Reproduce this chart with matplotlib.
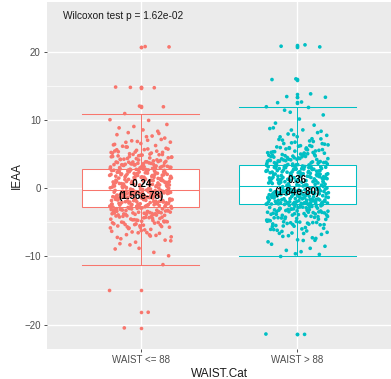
import matplotlib
matplotlib.use("Agg")
import matplotlib.pyplot as plt
import numpy as np

plt.rcParams["font.family"] = ["Liberation Sans", "DejaVu Sans"]

# groups and summary stats
groups = ["WAIST <= 88", "WAIST > 88"]
colors = ["#F8766D", "#00BFC4"]
medians = [-0.24, 0.36]
q1 = [-2.8, -2.35]
q3 = [2.9, 3.4]
whisker_lo = [-11.2, -10.0]
whisker_hi = [11.0, 12.0]
median_pvals = ["1.56e-78", "1.84e-80"]
wilcoxon_p = "1.62e-02"

# IEAA values, WAIST <= 88
ieaa_low = [
    -15.0, -18.2, -20.5, -11.2,
    -8.8, -8.9, -9.4, -8.3, -9.9,
    -6.1, -7.4, -6.6, -7.9, -6.3, -7.0, -6.8, -7.6, -6.2, -7.2, -6.9, -6.4, -7.7, -6.5,
    -4.1, -5.6, -4.7, -5.2, -4.4, -5.9, -4.9, -5.4, -4.2, -5.0, -4.6, -5.8, -4.3, -5.3,
    -4.8, -5.5, -4.05, -5.1, -4.5, -5.7, -4.25, -4.95, -5.35, -4.65, -5.05, -4.15, -5.65, -4.85,
    -2.85, -3.9, -3.2, -3.6, -2.9, -3.4, -3.75, -3.0, -3.5, -3.15, -3.85, -2.95, -3.3, -3.65,
    -3.05, -3.45, -3.8, -3.1, -3.55, -3.25, -3.95, -2.88, -3.35, -3.7, -3.02, -3.48, -3.82,
    -3.18, -3.58, -2.92, -3.28, -3.68,
    -2.8, -0.3, -1.5, -2.2, -0.9, -1.8, -2.6, -0.5, -1.2, -2.0, -0.7, -1.6, -2.4, -1.0, -0.4,
    -2.7, -1.3, -1.9, -0.6, -2.3, -1.1, -0.8, -2.5, -1.4, -1.7, -2.1, -0.35, -2.65, -1.25,
    -0.95, -1.85, -2.35, -0.55, -1.45, -2.15, -0.75, -1.65, -2.45, -1.05, -0.45, -2.75, -1.35,
    -1.95, -0.65, -2.25, -1.15, -0.85, -2.55, -1.55, -1.75, -2.05, -0.28, -2.62, -1.22, -0.92,
    -1.82, -2.32, -0.52, -1.42, -2.12, -0.72, -1.62, -2.42, -1.02, -0.42, -2.72, -1.32, -1.92,
    -0.62, -2.22, -1.12, -0.82, -2.52, -1.48, -1.78, -2.08, -0.38, -2.68, -1.28, -0.98, -1.88,
    -2.38, -0.58, -0.24,
    0.1, 1.5, 2.2, 0.6, 1.9, 2.7, 0.3, 1.1, 2.4, 0.8, 1.6, 2.9, 0.0, 1.3, 2.0, 0.5, 1.8, 2.6,
    -0.1, 1.0, 2.3, 0.7, 1.4, 2.8, 0.2, 1.2, 2.1, 0.9, 1.7, 2.5, 0.4, -0.2, 1.55, 2.25, 0.65,
    1.95, 2.75, 0.35, 1.15, 2.45, 0.85, 1.65, 2.85, 0.05, 1.35, 2.05, 0.55, 1.85, 2.65, -0.05,
    1.05, 2.35, 0.75, 1.45, 2.78, 0.25, 1.25, 2.15, 0.95, 1.75, 2.55, 0.45, -0.15, 1.52, 2.22,
    0.62, 1.92, 2.72, 0.32, 1.12, 2.42, 0.82, 1.62, 2.82, 0.02, 1.32, 2.02, 0.52, 1.82, 2.62,
    -0.08, 1.02, 2.32,
    3.0, 3.8, 3.3, 3.6, 3.1, 3.9, 3.4, 3.2, 3.7, 3.5, 2.95, 3.85, 3.25, 3.65, 3.05, 3.95,
    3.45, 3.15, 3.75, 3.55, 3.35, 3.02, 3.88, 3.28, 3.62, 3.12, 3.92, 3.48,
    4.1, 5.6, 4.7, 5.2, 4.4, 5.9, 4.9, 5.4, 4.2, 5.0, 4.6, 5.8, 4.3, 5.3, 4.8, 5.5, 4.05,
    5.1, 4.5, 5.7, 4.25, 4.95, 5.35, 4.65, 5.05,
    6.1, 7.4, 6.6, 7.9, 6.3, 7.0, 6.8, 7.6, 6.2, 7.2, 6.9, 6.4, 7.7,
    8.2, 9.4, 8.6, 8.9, 8.4, 9.1, 10.1, 10.0,
    11.0, 12.0, 12.1, 14.9, 14.8, 14.85, 20.8, 20.85,
    -3.12, -4.42, -5.22, -3.72, -6.02, -4.02, -3.32, -4.82, -5.52, -3.92, -4.62, -7.12, -3.42,
    -5.02, -4.22, -6.52, -3.62, -4.72, -5.82, -3.22, -4.32, -8.12, -3.52, -5.32, -4.52, -6.82,
    -3.82, -4.92, -5.72, -2.98,
    -0.33, -1.07, -1.83, -2.57, -0.47, -1.23, -1.97, -2.73, -0.61, -1.37, -2.11, -0.79, -1.53,
    -2.27, -0.93, -1.67, -2.41, -1.09, -1.79, -2.59, -0.29, -1.17, -2.01, -0.69, -1.41, -2.19,
    -0.87, -1.59, -2.33, -0.49,
    0.13, 0.87, 1.63, 2.37, 0.27, 1.03, 1.77, 2.53, 0.41, 1.17, 1.91, 2.67, 0.59, 1.33, 2.07,
    2.81, 0.73, 1.47, 2.21, 0.09, 0.97, 1.69, 2.43, 0.33, 1.21, 1.99, 2.71, 0.51, 1.39, 2.13,
    3.08, 4.38, 5.18, 3.68, 6.08, 3.98, 3.28, 4.78, 5.48, 3.88, 4.58, 7.08, 3.38, 4.98, 4.18,
    6.48, 3.58, 4.68, 5.78, 3.18, 4.28, 8.08, 3.48, 5.28, 4.48, 6.78, 3.78, 4.88, 5.68, 2.98,
]

# IEAA values, WAIST > 88
ieaa_high = [
    -21.4, -21.45, -10.0, -9.7, -9.6,
    -8.2, -8.8, -9.1, -8.5, -9.3,
    -6.15, -7.35, -6.55, -7.85, -6.25, -7.05, -6.75, -7.55, -6.05, -7.25, -6.95, -6.45, -7.65, -6.6,
    -4.15, -5.55, -4.75, -5.25, -4.45, -5.85, -4.95, -5.45, -4.25, -5.05, -4.65, -5.75, -4.35,
    -5.35, -4.85, -5.6, -4.1, -5.15, -4.55, -5.95, -4.3, -5.0, -5.3, -4.7, -5.1, -4.9,
    -2.4, -3.85, -3.15, -3.55, -2.5, -3.35, -3.7, -2.95, -3.45, -2.6, -3.8, -2.7, -3.25, -3.6,
    -2.45, -3.4, -3.75, -3.05, -3.5, -2.85, -3.95, -2.55, -3.3, -3.65, -2.65, -3.1, -3.9,
    -2.75, -3.2, -2.9, -3.0, -2.8, -3.5,
    -2.35, 0.3, -1.2, -1.9, -0.6, -1.5, -2.3, -0.2, -0.9, -1.7, -0.4, -1.3, -2.1, -0.7, -0.1,
    -2.2, -1.0, -1.6, -0.3, -2.0, -0.8, -0.5, -2.25, -1.1, -1.4, -1.8, 0.2, -2.15, -0.95,
    -0.65, -1.55, -2.05, -0.25, -1.15, -1.85, -0.45, -1.35, -2.1, -0.75, -0.15, -2.3, -1.05,
    -1.65, -0.35, -1.95, -0.85, -0.55, -2.2, -1.25, -1.45, -1.75, 0.1, -2.28, -0.92, -0.62,
    -1.52, -2.02, -0.22, -1.12, -1.82, -0.42, -1.32, -2.12, -0.72, 0.0, -2.32, -1.02, -1.62,
    -0.32, -1.92, -0.82, -0.52, -2.18, -1.18, -1.42, -1.72, 0.25, -2.26, -0.98, -0.68, -1.58,
    -2.08, 0.05, 0.36,
    0.7, 2.1, 2.8, 1.2, 2.5, 3.3, 0.9, 1.7, 3.0, 1.4, 2.2, 3.4, 0.5, 1.9, 2.6, 1.1, 2.4, 3.2,
    0.45, 1.6, 2.9, 1.3, 2.0, 3.35, 0.8, 1.8, 2.7, 1.5, 2.3, 3.1, 1.0, 0.4, 2.15, 2.85, 1.25,
    2.55, 3.25, 0.95, 1.75, 3.05, 1.45, 2.25, 3.38, 0.6, 1.95, 2.65, 1.15, 2.45, 3.15, 0.55,
    1.65, 2.95, 1.35, 2.05, 3.3, 0.85, 1.85, 2.75, 1.55, 2.35, 3.12, 1.05, 0.42, 2.12, 2.82,
    1.22, 2.52, 3.22, 0.92, 1.72, 3.02, 1.42, 2.22, 3.36, 0.62, 1.92, 2.62, 1.12, 2.42, 3.18,
    0.52, 1.62, 2.92,
    3.5, 4.6, 3.9, 4.3, 3.6, 4.9, 4.0, 3.7, 4.5, 4.1, 3.45, 4.8, 3.8, 4.4, 3.55, 4.95,
    4.2, 3.65, 4.7, 4.35, 3.95, 3.48, 4.85, 3.75, 4.55, 3.85, 4.65, 4.05, 4.25, 4.75, 4.15,
    5.1, 6.6, 5.7, 6.2, 5.4, 6.9, 5.9, 6.4, 5.2, 6.0, 5.6, 6.8, 5.3, 6.3, 5.8, 6.5, 5.05,
    6.1, 5.5, 6.7, 5.25, 5.95,
    7.1, 8.4, 7.6, 8.9, 7.3, 8.0, 7.8, 8.6, 7.2, 8.2, 7.9, 8.8,
    11.9, 11.5, 10.8, 10.2, 9.6, 9.3, 11.2, 12.0,
    21.1, 20.9, 20.8, 16.1, 16.0, 13.9, 13.5, 13.4, 12.7, 12.6,
    -2.62, -3.92, -4.72, -3.22, -5.52, -3.52, -2.82, -4.32, -5.02, -3.42, -4.12, -6.62, -2.92,
    -4.52, -3.72, -6.02, -3.12, -4.22, -5.32, -2.72, -3.82, -7.62, -3.02, -4.82, -4.02, -6.32,
    -3.32, -4.42, -5.22, -2.48,
    -0.03, -0.77, -1.53, -2.27, -0.17, -0.93, -1.67, -2.33, -0.31, -1.07, -1.81, -0.49, -1.23,
    -1.97, -0.63, -1.37, -2.11, -0.79, -1.49, -2.29, 0.01, -0.87, -1.71, -0.39, -1.11, -1.89,
    -0.57, -1.29, -2.03, -0.19,
    0.49, 1.27, 2.03, 2.77, 0.67, 1.43, 2.17, 2.93, 0.81, 1.57, 2.31, 3.07, 0.99, 1.73, 2.47,
    3.21, 1.13, 1.87, 2.61, 0.41, 1.37, 2.09, 2.83, 0.73, 1.61, 2.39, 3.11, 0.91, 1.79, 2.53,
    3.58, 4.88, 5.68, 4.18, 6.58, 4.48, 3.78, 5.28, 5.98, 4.38, 5.08, 7.58, 3.88, 5.48, 4.68,
    6.98, 4.08, 5.18, 6.28, 3.68, 4.78, 8.58, 3.98, 5.78, 4.98, 7.28, 4.28, 5.38, 6.18, 3.52,
]

values = [ieaa_low, ieaa_high]

fig = plt.figure(figsize=(3.91, 3.79), dpi=100)
ax = fig.add_axes([47 / 391, 1 - 349 / 379, 1 - 47 / 391, 347 / 379])

ax.set_facecolor("#EBEBEB")
for side in ax.spines.values():
    side.set_visible(False)

ax.set_xlim(0.4, 2.6)
ax.set_ylim(-23.6, 27.4)
ax.set_yticks([-20, -10, 0, 10, 20])
ax.set_yticks([-15, -5, 5, 15], minor=True)
ax.set_xticks([1, 2])
ax.set_xticklabels(groups)
ax.grid(which="major", color="white", linewidth=1.0, zorder=0)
ax.grid(which="minor", axis="y", color="white", linewidth=0.5, zorder=0)
ax.set_axisbelow(True)
ax.tick_params(which="major", length=2.5, width=0.6, color="#333333",
               labelsize=7, labelcolor="#4D4D4D", pad=2)
ax.tick_params(which="minor", length=0)

# boxplots with errorbar-style whisker caps
stats = []
for i in range(2):
    v = np.array(values[i])
    stats.append({
        "med": medians[i], "q1": q1[i], "q3": q3[i],
        "whislo": whisker_lo[i], "whishi": whisker_hi[i],
        "fliers": v[(v < whisker_lo[i]) | (v > whisker_hi[i])],
    })

for i, st in enumerate(stats):
    c = colors[i]
    ax.bxp([st], positions=[i + 1], widths=0.75, capwidths=0.75,
           patch_artist=True, manage_ticks=False, zorder=2,
           boxprops=dict(facecolor="white", edgecolor=c, linewidth=0.75),
           medianprops=dict(color=c, linewidth=0.75),
           whiskerprops=dict(color=c, linewidth=0.75),
           capprops=dict(color=c, linewidth=0.75),
           flierprops=dict(marker="o", markersize=2.6, markerfacecolor=c,
                           markeredgecolor="none", linestyle="none"))

# jittered points
golden = 0.6180339887
for i, v in enumerate(values):
    idx = np.arange(len(v))
    offsets = ((idx * golden) % 1.0 - 0.5) * 0.4
    ax.scatter(i + 1 + offsets, v, s=7, color=colors[i], edgecolors="none", zorder=3)

# median labels
for i in range(2):
    ax.text(i + 1, medians[i], f"{medians[i]:.2f}\n({median_pvals[i]})",
            ha="center", va="center", fontsize=7, fontweight="bold",
            color="black", linespacing=1.2, zorder=4)

ax.text(0.5, 25.4, f"Wilcoxon test p = {wilcoxon_p}", ha="left", va="center",
        fontsize=7.3, color="#1A1A1A")

ax.set_xlabel("WAIST.Cat", fontsize=8.5, color="#1A1A1A", labelpad=2)
ax.set_ylabel("IEAA", fontsize=8.5, color="#1A1A1A", labelpad=1)

fig.savefig("out.png", dpi=100, facecolor="white")
